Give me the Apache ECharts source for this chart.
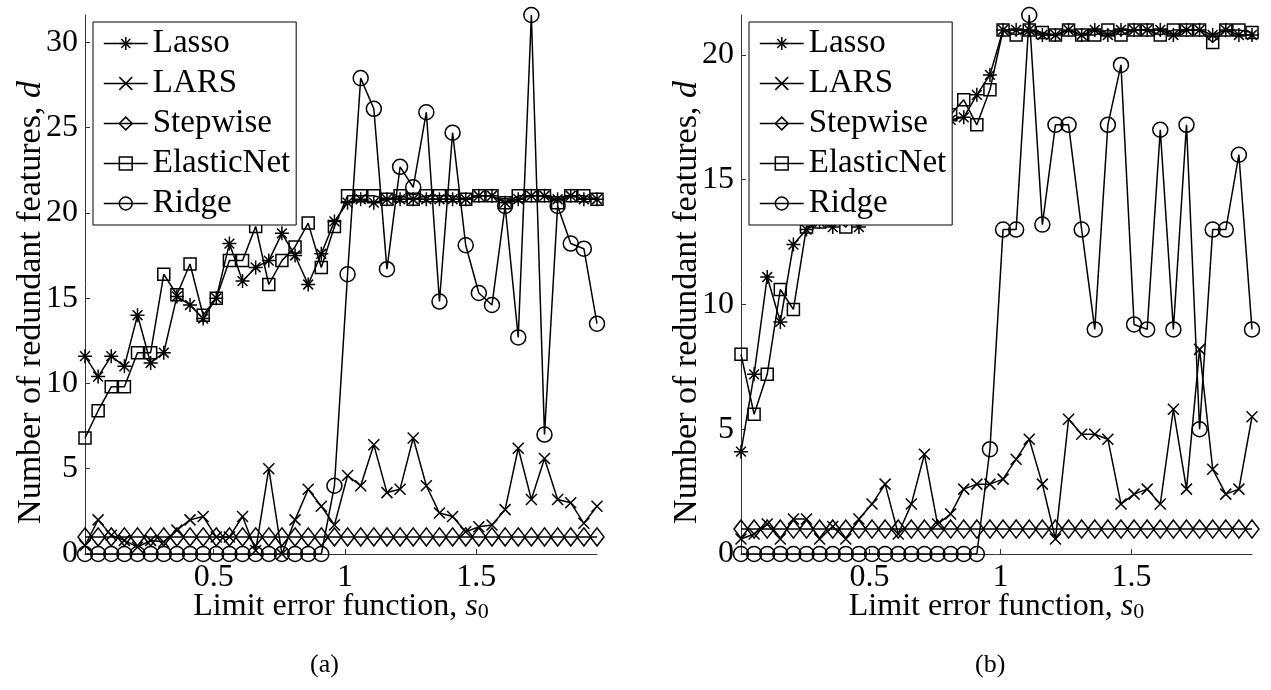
<!DOCTYPE html>
<html>
<head>
<meta charset="utf-8">
<title>redundant features vs s0</title>
<script src="https://cdn.jsdelivr.net/npm/echarts@6/dist/echarts.min.js"></script>
<style>
html, body { margin: 0; padding: 0; background: #fff; }
#chart { width: 1271px; height: 690px; }
</style>
</head>
<body>
<div id="chart"></div>
<script>
// limit error function s0, same for both panels
var s0 = [0.01, 0.06, 0.11, 0.16, 0.21, 0.26, 0.31, 0.36, 0.41, 0.46,
          0.51, 0.56, 0.61, 0.66, 0.71, 0.76, 0.81, 0.86, 0.91, 0.96,
          1.01, 1.06, 1.11, 1.16, 1.21, 1.26, 1.31, 1.36, 1.41, 1.46,
          1.51, 1.56, 1.61, 1.66, 1.71, 1.76, 1.81, 1.86, 1.91, 1.96];

// panel (a)
var lassoA = [11.6, 10.4, 11.6, 11.0, 14.0, 11.2, 11.8, 15.1, 14.6, 13.8,
              15.0, 18.2, 16.0, 16.8, 17.2, 18.8, 17.5, 15.8, 17.6, 19.5,
              20.6, 20.8, 20.6, 20.8, 20.8, 20.8, 20.8, 20.8, 20.8, 20.8,
              21.0, 21.0, 20.6, 20.8, 21.0, 21.0, 20.8, 21.0, 20.8, 20.8];
var larsA = [0.5, 2.0, 1.1, 0.8, 0.4, 0.8, 0.7, 1.4, 2.0, 2.2,
             1.0, 1.0, 2.2, 0.2, 5.0, 0.0, 2.0, 3.8, 2.8, 1.7,
             4.6, 4.0, 6.4, 3.6, 3.8, 6.8, 4.0, 2.4, 2.2, 1.3,
             1.6, 1.7, 2.6, 6.2, 3.2, 5.6, 3.2, 3.0, 1.8, 2.8];
var stepA = [1, 1, 1, 1, 1, 1, 1, 1, 1, 1, 1, 1, 1, 1, 1, 1, 1, 1, 1, 1,
             1, 1, 1, 1, 1, 1, 1, 1, 1, 1, 1, 1, 1, 1, 1, 1, 1, 1, 1, 1];
var enetA = [6.8, 8.4, 9.8, 9.8, 11.8, 11.8, 16.4, 15.2, 17.0, 14.0,
             15.0, 17.2, 17.2, 19.2, 15.8, 17.2, 18.0, 19.4, 16.8, 19.2,
             21.0, 21.0, 21.0, 20.8, 21.0, 20.8, 21.0, 21.0, 21.0, 20.8,
             21.0, 21.0, 20.6, 21.0, 21.0, 21.0, 20.6, 21.0, 21.0, 20.8];
var ridgeA = [0, 0, 0, 0, 0, 0, 0, 0, 0, 0, 0, 0, 0, 0, 0, 0, 0, 0, 0, 4.0,
              16.4, 27.9, 26.1, 16.7, 22.7, 21.5, 25.9, 14.8, 24.7, 18.1,
              15.3, 14.6, 20.4, 12.7, 31.6, 7.0, 20.4, 18.2, 17.9, 13.5];

// panel (b)
var lassoB = [4.1, 7.2, 11.1, 9.3, 12.4, 13.0, 13.3, 13.1, 13.5, 13.1,
              14.0, 14.8, 15.5, 16.0, 16.5, 17.0, 17.4, 17.5, 18.4, 19.2,
              21.0, 21.0, 21.0, 20.8, 20.8, 21.0, 20.8, 21.0, 20.8, 21.0,
              21.0, 21.0, 21.0, 20.8, 21.0, 21.0, 20.8, 21.0, 20.8, 20.8];
var larsB = [0.6, 0.8, 1.2, 0.6, 1.4, 1.4, 0.6, 1.1, 0.6, 1.4,
             2.0, 2.8, 0.8, 2.0, 4.0, 1.2, 1.6, 2.6, 2.8, 2.8,
             3.0, 3.8, 4.6, 2.8, 0.6, 5.4, 4.8, 4.8, 4.6, 2.0,
             2.4, 2.6, 2.0, 5.8, 2.6, 8.2, 3.4, 2.4, 2.6, 5.5];
var stepB = [1, 1, 1, 1, 1, 1, 1, 1, 1, 1, 1, 1, 1, 1, 1, 1, 1, 1, 1, 1,
             1, 1, 1, 1, 1, 1, 1, 1, 1, 1, 1, 1, 1, 1, 1, 1, 1, 1, 1, 1];
var enetB = [8.0, 5.6, 7.2, 10.6, 9.8, 13.1, 13.3, 13.6, 13.1, 13.8,
             14.4, 15.0, 15.6, 16.2, 16.8, 17.2, 17.6, 18.2, 17.2, 18.6,
             21.0, 20.8, 21.0, 20.9, 20.8, 21.0, 20.8, 20.8, 21.0, 20.8,
             21.0, 21.0, 20.8, 21.0, 21.0, 21.0, 20.5, 21.0, 21.0, 20.9];
var ridgeB = [0, 0, 0, 0, 0, 0, 0, 0, 0, 0, 0, 0, 0, 0, 0, 0, 0, 0, 0, 4.2,
              13.0, 13.0, 21.6, 13.2, 17.2, 17.2, 13.0, 9.0, 17.2, 19.6,
              9.2, 9.0, 17.0, 9.0, 17.2, 5.0, 13.0, 13.0, 16.0, 9.0];

var methods = ['Lasso', 'LARS', 'Stepwise', 'ElasticNet', 'Ridge'];
var xTicks = [0.5, 1, 1.5];
var yTicksA = [0, 5, 10, 15, 20, 25, 30];
var yTicksB = [0, 5, 10, 15, 20];

var serif = 'Liberation Serif';

// matlab-ish markers: *, x, diamond, square, circle (all hollow)
var marks = {
    Lasso: { symbol: 'path://M0,-10L0,10M-10,0L10,0M-7,-7L7,7M-7,7L7,-7', size: 14 },
    LARS: { symbol: 'path://M-10,-10L10,10M-10,10L10,-10', size: 11 },
    Stepwise: { symbol: 'diamond', size: [14, 18] },
    ElasticNet: { symbol: 'rect', size: 12 },
    Ridge: { symbol: 'circle', size: 15 }
};

function pairs(v) {
    return s0.map(function (x, i) { return [x, v[i]]; });
}

function line(name, vals, idx) {
    return {
        name: name,
        type: 'line',
        xAxisIndex: idx,
        yAxisIndex: idx,
        data: pairs(vals),
        symbol: marks[name].symbol,
        symbolSize: marks[name].size,
        lineStyle: { color: '#000', width: 1.5 },
        itemStyle: { color: 'transparent', borderColor: '#000', borderWidth: 1.5 },
        emphasis: { disabled: true }
    };
}

function rich(size) {
    return {
        n: { fontFamily: serif, fontSize: size, color: '#000', lineHeight: size, verticalAlign: 'top' },
        i: { fontFamily: serif, fontSize: size, color: '#000', fontStyle: 'italic', lineHeight: size, verticalAlign: 'top' },
        sub: { fontFamily: serif, fontSize: Math.round(size * 0.68), color: '#000',
               lineHeight: Math.round(size * 0.68), verticalAlign: 'bottom', padding: [15, 0, 0, 0] }
    };
}

function xAx(idx) {
    return {
        gridIndex: idx,
        type: 'value',
        min: s0[0],
        max: s0[s0.length - 1],
        axisLine: { show: true, onZero: false, lineStyle: { color: '#333', width: 1 } },
        axisTick: { show: true, inside: true, length: 5, customValues: xTicks, lineStyle: { color: '#333' } },
        axisLabel: { customValues: xTicks, margin: 8, color: '#000', fontFamily: serif, fontSize: 32 },
        splitLine: { show: false },
        name: '{n|Limit error function, }{i|s}{sub|0}',
        nameLocation: 'middle',
        nameGap: 37,
        nameMoveOverlap: false,
        nameTextStyle: { rich: rich(32) }
    };
}

function yAx(idx, ticks) {
    return {
        gridIndex: idx,
        type: 'value',
        min: 0,
        max: 'dataMax',
        axisLine: { show: true, lineStyle: { color: '#333', width: 1 } },
        axisTick: { show: true, inside: true, length: 5, customValues: ticks, lineStyle: { color: '#333' } },
        axisLabel: { customValues: ticks, margin: 7, color: '#000', fontFamily: serif, fontSize: 32 },
        splitLine: { show: false },
        name: '{n|Number of redundant features, }{i|d}',
        nameLocation: 'middle',
        nameGap: 37,
        nameMoveOverlap: false,
        nameTextStyle: { rich: rich(34), padding: [0, 36, 0, 0] }
    };
}

function legend(left) {
    return {
        data: methods,
        orient: 'vertical',
        left: left,
        top: 22,
        padding: [5, 6, 5, 10],
        itemWidth: 44,
        itemHeight: 16,
        itemGap: 7,
        backgroundColor: '#fff',
        borderColor: '#000',
        borderWidth: 1,
        borderRadius: 0,
        selectedMode: false,
        itemStyle: { color: 'transparent', borderColor: '#000', borderWidth: 1.5 },
        lineStyle: { color: '#000', width: 1.5 },
        textStyle: { fontFamily: serif, fontSize: 33, lineHeight: 32, color: '#000' }
    };
}

var chart = echarts.init(document.getElementById('chart'));

var option = {
    backgroundColor: '#fff',
    animation: false,
    title: [
        { text: '(a)', left: 310, top: 652, padding: 0,
          textStyle: { fontFamily: serif, fontSize: 26, fontWeight: 'normal', color: '#000' } },
        { text: '(b)', left: 975, top: 652, padding: 0,
          textStyle: { fontFamily: serif, fontSize: 26, fontWeight: 'normal', color: '#000' } }
    ],
    legend: [legend(93), legend(749)],
    grid: [
        { left: 85, top: 15, width: 512, height: 539 },
        { left: 741, top: 15, width: 511, height: 539 }
    ],
    xAxis: [xAx(0), xAx(1)],
    yAxis: [yAx(0, yTicksA), yAx(1, yTicksB)],
    series: [
        line('Lasso', lassoA, 0),
        line('LARS', larsA, 0),
        line('Stepwise', stepA, 0),
        line('ElasticNet', enetA, 0),
        line('Ridge', ridgeA, 0),
        line('Lasso', lassoB, 1),
        line('LARS', larsB, 1),
        line('Stepwise', stepB, 1),
        line('ElasticNet', enetB, 1),
        line('Ridge', ridgeB, 1)
    ]
};

chart.setOption(option);
</script>
</body>
</html>
